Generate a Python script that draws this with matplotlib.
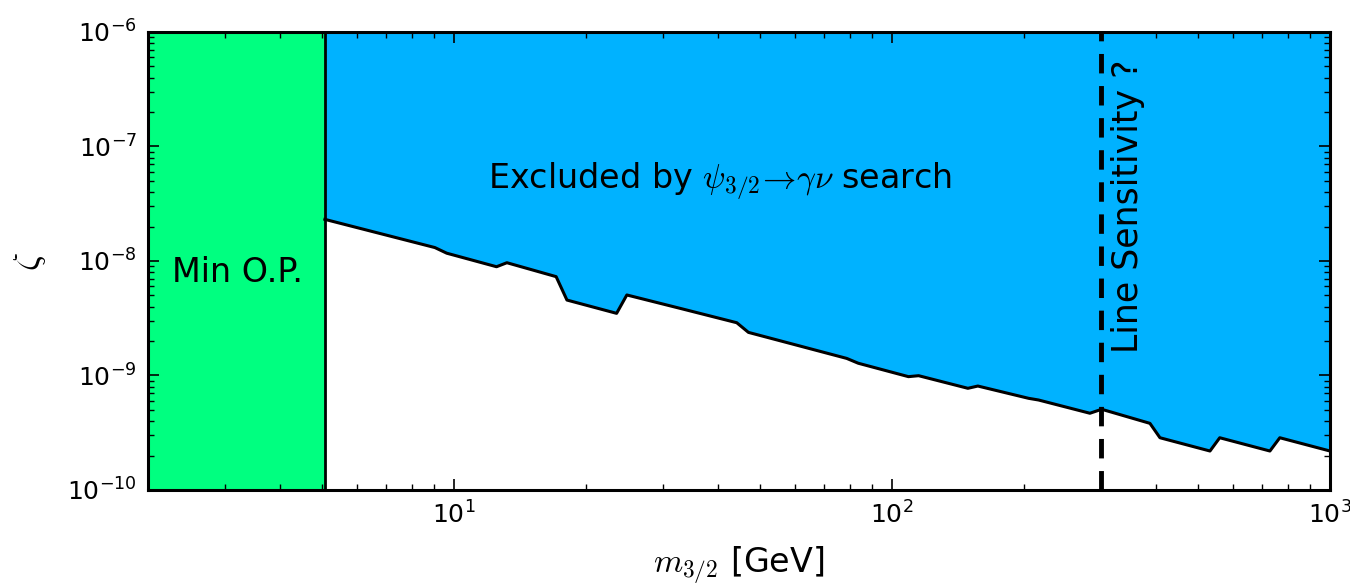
import numpy as np
import matplotlib
matplotlib.use("Agg")
import matplotlib.pyplot as plt
from matplotlib.ticker import LogLocator, FuncFormatter, NullFormatter

# exclusion boundary from the line search
mass_gev = [5.07, 9.04, 9.62, 12.5, 13.2, 17.1, 18.1, 23.5, 24.8, 32.8, 44.2, 47.0,
            78.8, 83.7, 109, 115, 149, 157, 205, 216, 283, 301, 388, 409,
            532, 560, 729, 768, 1000]
zeta_limit = [2.31e-8, 1.31e-8, 1.17e-8, 8.91e-9, 9.66e-9, 7.30e-9, 4.56e-9, 3.49e-9,
              5.05e-9, 3.86e-9, 2.89e-9, 2.38e-9, 1.41e-9, 1.28e-9, 9.77e-10, 9.96e-10,
              7.73e-10, 8.09e-10, 6.32e-10, 6.11e-10, 4.68e-10, 5.07e-10, 3.82e-10,
              2.86e-10, 2.19e-10, 2.86e-10, 2.19e-10, 2.86e-10, 2.19e-10]

x_range = [2, 1000]
y_range = [1e-10, 1e-6]
min_op_mass = 5.07      # minimal operator bound
line_sens_mass = 300    # line sensitivity reach

plt.rcParams["mathtext.fontset"] = "cm"

fig = plt.figure(figsize=(13.5, 5.85), dpi=100)
ax = fig.add_axes([0.1096, 0.1624, 0.8756, 0.7829])

ax.set_xscale("log")
ax.set_yscale("log")
ax.set_xlim(x_range)
ax.set_ylim(y_range)

ax.fill_between(mass_gev, zeta_limit, y_range[1], color="#00b2ff", lw=0, zorder=1)
ax.plot(mass_gev, zeta_limit, color="black", lw=2.2, zorder=3)
ax.fill_betweenx(y_range, x_range[0], min_op_mass, color="#00ff80", lw=0, zorder=1)
ax.plot([min_op_mass, min_op_mass], y_range, color="black", lw=2.0, zorder=3)
ax.plot([line_sens_mass, line_sens_mass], y_range, color="black", lw=3.5,
        dashes=(4, 2.6), zorder=4)

ax.text(3.21, 8.0e-9, "Min O.P.", fontsize=24, ha="center", va="center", zorder=5)
ax.text(40.5, 4.9e-8, r"Excluded by $\psi_{3/2}\!\rightarrow\!\gamma\nu$ search",
        fontsize=24, ha="center", va="center", zorder=5)
ax.text(345, 3.0e-8, "Line Sensitivity ?", fontsize=25, rotation=90,
        ha="center", va="center", zorder=5)

ax.set_xlabel(r"$m_{3/2}$ [GeV]", fontsize=24, labelpad=12)
ax.set_ylabel(r"$\zeta$", fontsize=26, labelpad=14)

def pow10(v, pos):
    return r"$\mathregular{10^{%d}}$" % int(round(np.log10(v)))

for axis in (ax.xaxis, ax.yaxis):
    axis.set_major_locator(LogLocator(base=10, numticks=10))
    axis.set_minor_locator(LogLocator(base=10, subs=np.arange(2, 10), numticks=10))
    axis.set_major_formatter(FuncFormatter(pow10))
    axis.set_minor_formatter(NullFormatter())

ax.tick_params(which="both", direction="in", top=True, right=True, labelsize=18, pad=8)
ax.tick_params(which="major", length=8, width=1.2)
ax.tick_params(which="minor", length=4, width=1.0)
for sp in ax.spines.values():
    sp.set_linewidth(2.2)
    sp.set_zorder(6)

fig.savefig("out.png", dpi=100)
